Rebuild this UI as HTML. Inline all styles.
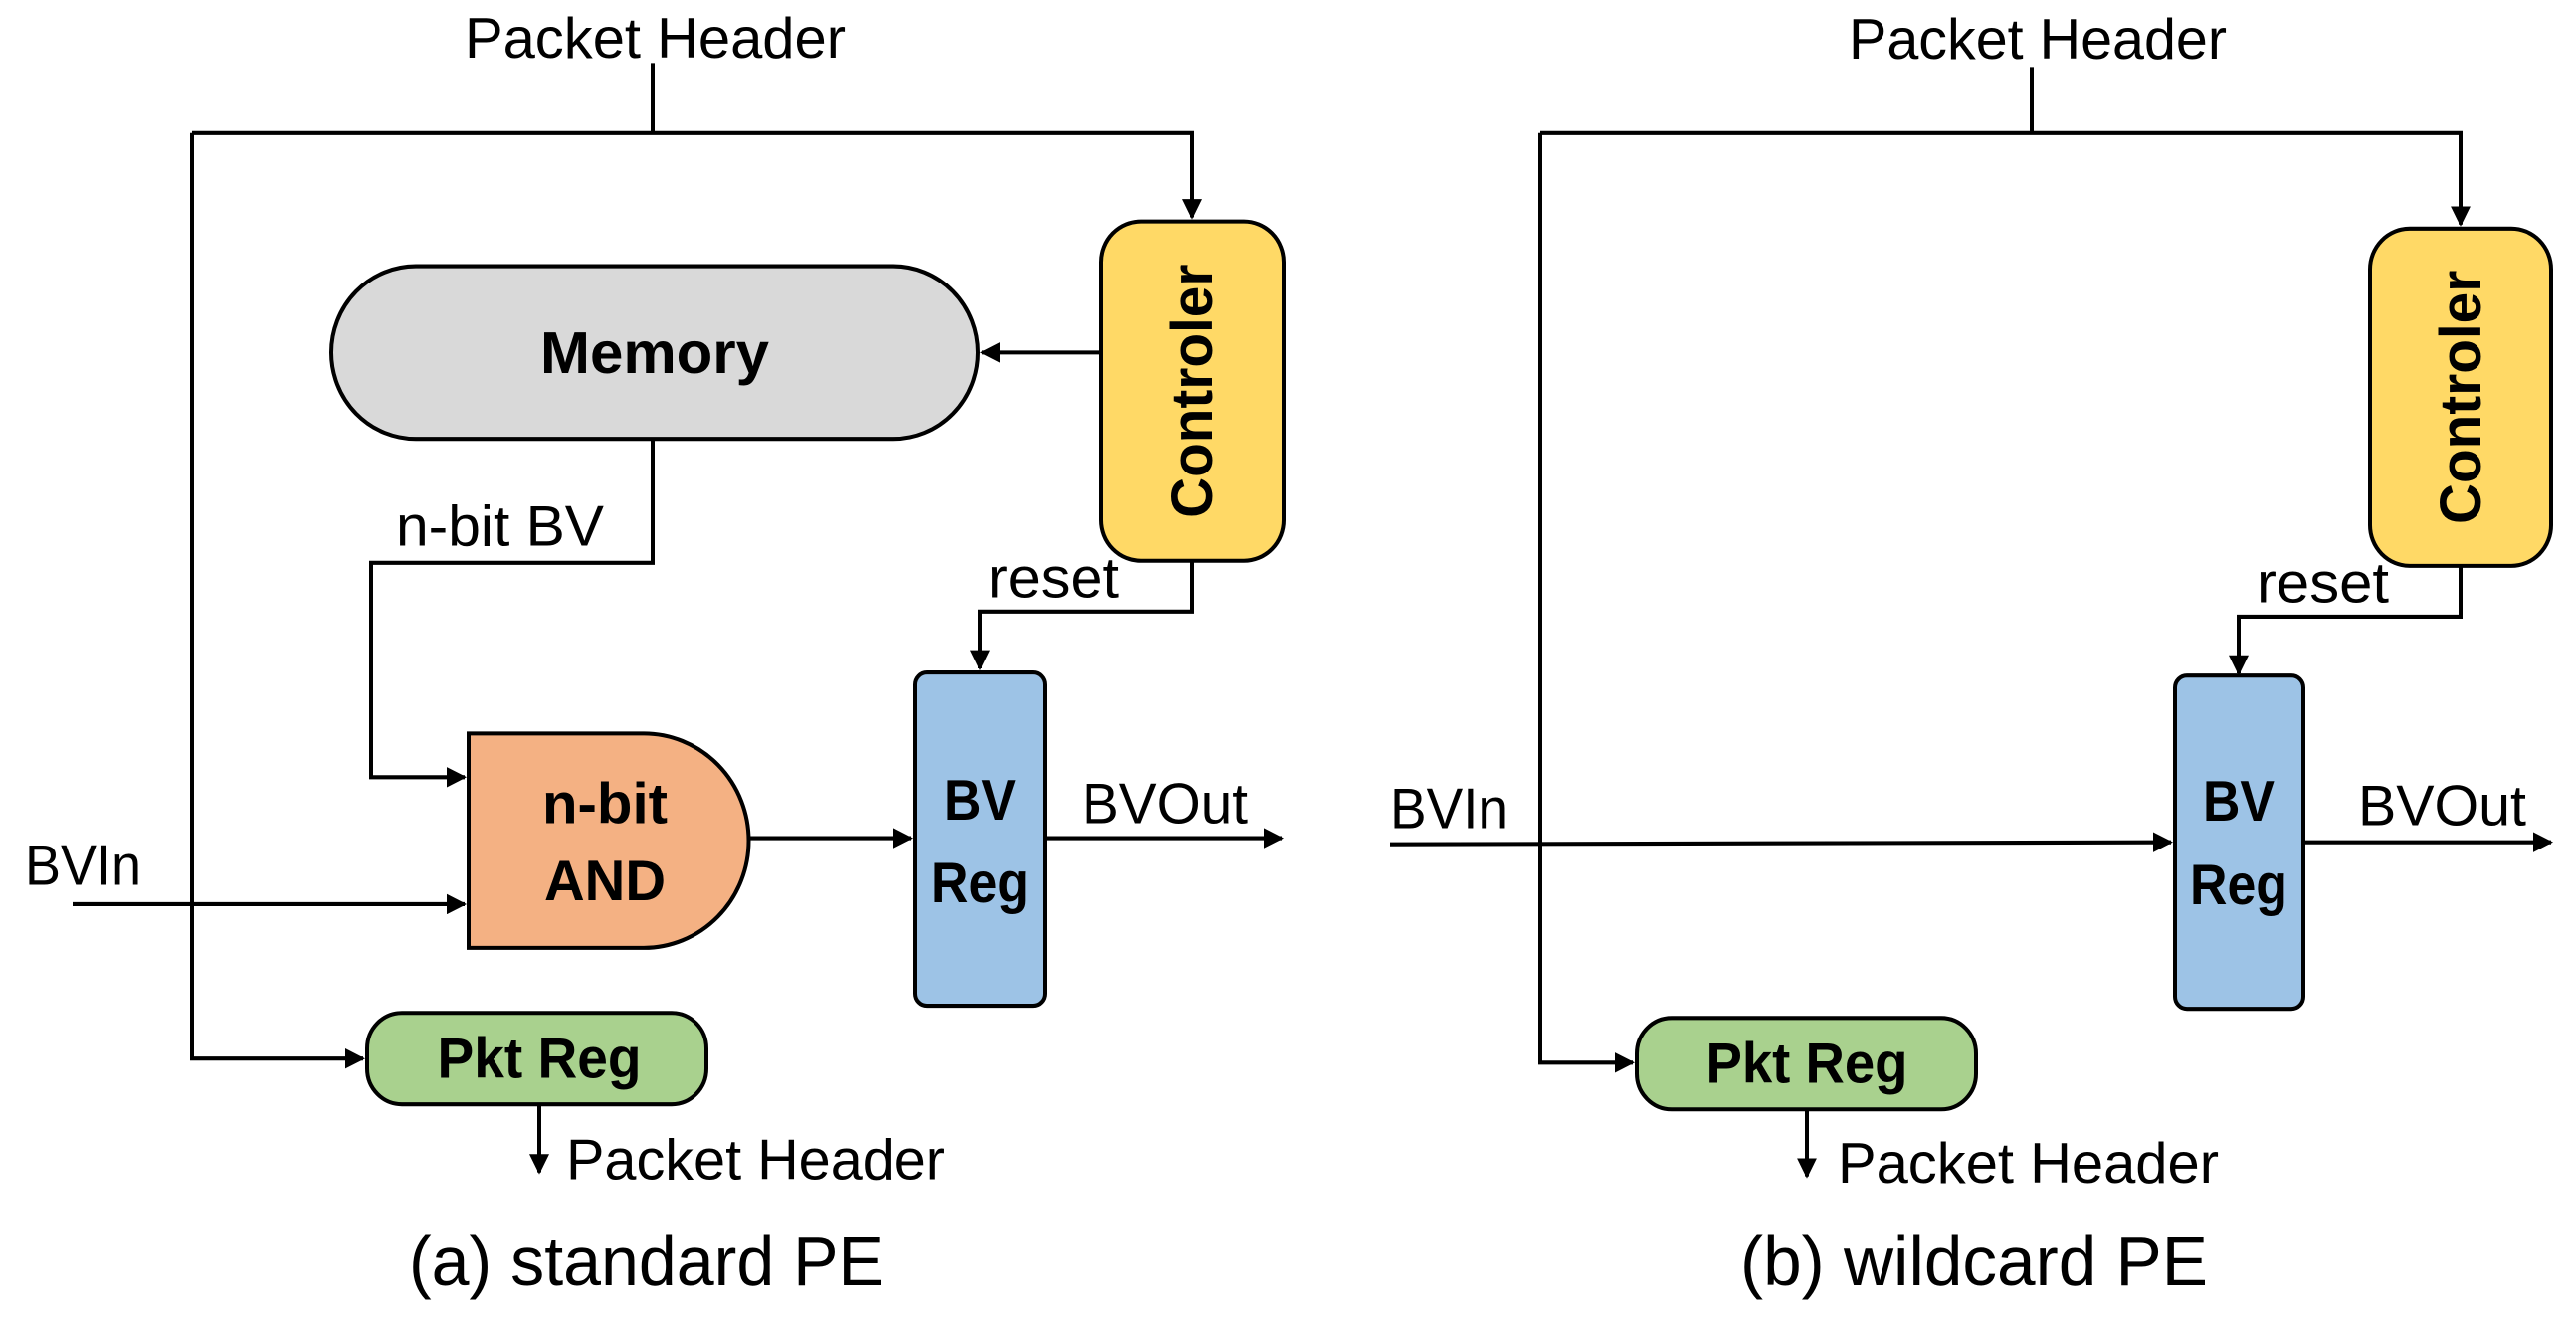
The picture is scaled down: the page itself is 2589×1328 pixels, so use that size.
<!DOCTYPE html>
<html><head><meta charset="utf-8"><style>
html,body{margin:0;padding:0;background:#fff;}
svg{display:block;}
text{font-family:"Liberation Sans",sans-serif;fill:#000;}
.b{font-weight:bold;}
</style></head><body>
<svg width="2589" height="1328" viewBox="0 0 2589 1328" xmlns="http://www.w3.org/2000/svg">
<defs>
<marker id="a" markerWidth="5" markerHeight="5" refX="4.5" refY="2.5" orient="auto" markerUnits="strokeWidth">
<path d="M0,0 L5,2.5 L0,5 Z" fill="#000"/>
</marker>
</defs>
<g transform="scale(1,1.0213)">
<g stroke="#000" stroke-width="4" fill="none">
<!-- LEFT -->
<polyline points="656,62 656,131"/>
<polyline points="193,131 193,1042 365,1042" marker-end="url(#a)"/>
<polyline points="193,131 1198,131 1198,214" marker-end="url(#a)"/>
<polyline points="1107,347 987,347" marker-end="url(#a)"/>
<polyline points="656,432 656,554 373,554 373,765 467,765" marker-end="url(#a)"/>
<polyline points="73,890 467,890" marker-end="url(#a)"/>
<polyline points="752,825 916,825" marker-end="url(#a)"/>
<polyline points="1198,552 1198,602 985,602 985,658" marker-end="url(#a)"/>
<polyline points="1050,825 1288,825" marker-end="url(#a)"/>
<polyline points="542,1087 542,1154" marker-end="url(#a)"/>
<!-- RIGHT -->
<polyline points="2042,66 2042,131"/>
<polyline points="1548,131 1548,1046 1641,1046" marker-end="url(#a)"/>
<polyline points="1548,131 2473,131 2473,221" marker-end="url(#a)"/>
<polyline points="2473,557 2473,607 2250,607 2250,663" marker-end="url(#a)"/>
<polyline points="1397,831 2182,829" marker-end="url(#a)"/>
<polyline points="2315,829 2564,829" marker-end="url(#a)"/>
<polyline points="1816,1092 1816,1158" marker-end="url(#a)"/>
</g>
<g stroke="#000" stroke-width="4">
<rect x="1107" y="218" width="183" height="334" rx="40" fill="#FFD966"/>
<rect x="333" y="262" width="650" height="170" rx="85" fill="#D9D9D9"/>
<path d="M471,722 L647,722 A105.5,105.5 0 0 1 647,933 L471,933 Z" fill="#F4B183"/>
<rect x="920" y="662" width="130" height="328" rx="12" fill="#9DC3E6"/>
<rect x="369" y="997" width="341" height="90" rx="35" fill="#A9D18E"/>
<rect x="2382" y="225" width="182" height="332" rx="40" fill="#FFD966"/>
<rect x="2186" y="665" width="129" height="328" rx="12" fill="#9DC3E6"/>
<rect x="1645" y="1002" width="341" height="90" rx="35" fill="#A9D18E"/>
</g>
<!-- LEFT TEXT -->
<text x="467" y="57" font-size="56" textLength="383" lengthAdjust="spacingAndGlyphs">Packet Header</text>
<text x="658" y="367" font-size="58" class="b" text-anchor="middle" textLength="230" lengthAdjust="spacingAndGlyphs">Memory</text>
<text x="1218" y="385" font-size="58" class="b" text-anchor="middle" transform="rotate(-90 1218 385)" textLength="250" lengthAdjust="spacingAndGlyphs">Controler</text>
<text x="398" y="537" font-size="56" textLength="209" lengthAdjust="spacingAndGlyphs">n-bit BV</text>
<text x="993" y="588" font-size="56" textLength="132" lengthAdjust="spacingAndGlyphs">reset</text>
<text x="608" y="810" font-size="56" class="b" text-anchor="middle" textLength="126" lengthAdjust="spacingAndGlyphs">n-bit</text>
<text x="608" y="886" font-size="56" class="b" text-anchor="middle" textLength="122" lengthAdjust="spacingAndGlyphs">AND</text>
<text x="25" y="871" font-size="56" textLength="117" lengthAdjust="spacingAndGlyphs">BVIn</text>
<text x="985" y="807" font-size="56" class="b" text-anchor="middle" textLength="72" lengthAdjust="spacingAndGlyphs">BV</text>
<text x="985" y="888" font-size="56" class="b" text-anchor="middle" textLength="98" lengthAdjust="spacingAndGlyphs">Reg</text>
<text x="1087" y="810" font-size="56" textLength="167" lengthAdjust="spacingAndGlyphs">BVOut</text>
<text x="542" y="1061" font-size="56" class="b" text-anchor="middle" textLength="205" lengthAdjust="spacingAndGlyphs">Pkt Reg</text>
<text x="569" y="1161" font-size="56" textLength="381" lengthAdjust="spacingAndGlyphs">Packet Header</text>
<text x="411" y="1265" font-size="68" textLength="477" lengthAdjust="spacingAndGlyphs">(a) standard PE</text>
<!-- RIGHT TEXT -->
<text x="1858" y="58" font-size="56" textLength="380" lengthAdjust="spacingAndGlyphs">Packet Header</text>
<text x="2493" y="391" font-size="58" class="b" text-anchor="middle" transform="rotate(-90 2493 391)" textLength="250" lengthAdjust="spacingAndGlyphs">Controler</text>
<text x="2268" y="593" font-size="56" textLength="133" lengthAdjust="spacingAndGlyphs">reset</text>
<text x="1397" y="815" font-size="56" textLength="119" lengthAdjust="spacingAndGlyphs">BVIn</text>
<text x="2250" y="808" font-size="56" class="b" text-anchor="middle" textLength="72" lengthAdjust="spacingAndGlyphs">BV</text>
<text x="2250" y="890" font-size="56" class="b" text-anchor="middle" textLength="98" lengthAdjust="spacingAndGlyphs">Reg</text>
<text x="2370" y="812" font-size="56" textLength="169" lengthAdjust="spacingAndGlyphs">BVOut</text>
<text x="1816" y="1066" font-size="56" class="b" text-anchor="middle" textLength="203" lengthAdjust="spacingAndGlyphs">Pkt Reg</text>
<text x="1847" y="1164" font-size="56" textLength="383" lengthAdjust="spacingAndGlyphs">Packet Header</text>
<text x="1749" y="1265" font-size="68" textLength="470" lengthAdjust="spacingAndGlyphs">(b) wildcard PE</text>
</g>
</svg>
</body></html>
